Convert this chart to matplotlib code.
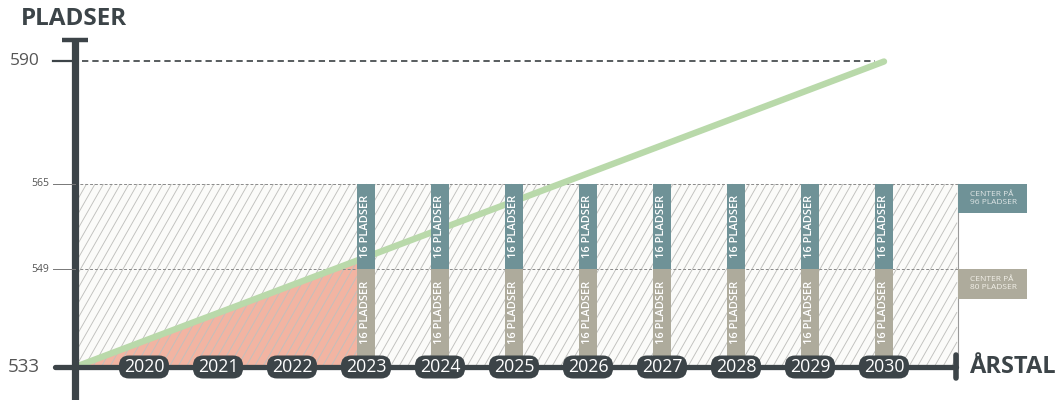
import numpy as np
import matplotlib
matplotlib.use("Agg")
import matplotlib.pyplot as plt
from matplotlib.patches import Rectangle, FancyBboxPatch
from matplotlib.collections import LineCollection

plt.rcParams['font.family'] = ['Open Sans', 'DejaVu Sans']

# ---- data ----
years = [2020, 2021, 2022, 2023, 2024, 2025, 2026, 2027, 2028, 2029, 2030]
expansion_years = [2023, 2024, 2025, 2026, 2027, 2028, 2029, 2030]
bar_label = "16 PLADSER"
y_ticks = [533, 549, 565, 590]
level_80 = 549
level_96 = 565
base = 533
demand_start = (2019.07, 533)   # line starts at the axis origin
demand_end = (2030, 590)
target = 590
box_labels = ["CENTER PÅ\n96 PLADSER", "CENTER PÅ\n80 PLADSER"]

# ---- styles ----
DARK = '#3c4448'
TEAL = '#6f9297'
BEIGE = '#aeab9c'
GREEN = '#b9d9aa'
SALMON = '#f2b4a2'
X0, X1 = 2019.07, 2031.0

W, H = 1059, 400
fig = plt.figure(figsize=(W / 100, H / 100), dpi=100)
ax = fig.add_axes([0, 0, 1, 1])
ax.set_axis_off()

# piecewise-linear y scale (schematic axis)
kv = np.array([520, 533, 549, 565, 590, 610], dtype=float)
kp = np.array([-46.6, 33, 131, 216, 338.5, 436.5])
fwd = lambda v: np.interp(v, kv, kp)
inv = lambda p: np.interp(p, kp, kv)
ax.set_yscale('function', functions=(fwd, inv))
ax.set_xlim(2020 - 144 / 74, 2020 + (W - 144) / 74)
ax.set_ylim(inv(0), inv(400))

def to_axes(x, y):
    d = ax.transData.transform((x, y))
    return ax.transAxes.inverted().transform(d)

# hatched background region
ax.add_patch(Rectangle((X0, base), X1 - X0, level_96 - base, fc='#fbfbf9', ec='none', zorder=1))

# red area under demand line up to 2023
p0 = fwd(demand_start[1]); p1 = fwd(demand_end[1])
t = (2023 - demand_start[0]) / (demand_end[0] - demand_start[0])
y2023 = inv(p0 + t * (p1 - p0))
ax.fill([demand_start[0], 2023, 2023], [base, y2023, base], color=SALMON, lw=0, zorder=2)

# hatch lines (pixel coordinates, clipped to region)
segs = []
ytop_px, ybot_px = 184, 367
hh = ybot_px - ytop_px
dx = 0.57 * hh
xl, xr = 78, 957
for xa in np.arange(xl - dx, xr, 8.5):
    s0 = max(0.0, (xl - xa) / dx)
    s1 = min(1.0, (xr - xa) / dx)
    if s0 >= s1:
        continue
    pa = (xa + s0 * dx, ybot_px - s0 * hh)
    pb = (xa + s1 * dx, ybot_px - s1 * hh)
    segs.append([(pa[0] / W, 1 - pa[1] / H), (pb[0] / W, 1 - pb[1] / H)])
ax.add_collection(LineCollection(segs, colors='#c0c0bd', linewidths=0.65,
                                 transform=ax.transAxes, zorder=3))

# dashed level lines and right border
for lv in (level_80, level_96):
    ax.plot([X0, X1], [lv, lv], color='#8a8a8a', lw=0.7, ls=(0, (3, 2)), zorder=3)
ax.plot([X1, X1], [base, level_96], color='#9a9a9a', lw=0.8, zorder=3)

# target dashed line
ax.plot([X0 + 0.09, 2029.88], [target, target], color='#4a4f52', lw=1.3, ls=(0, (3.5, 2.2)), zorder=3)

# demand line
ax.plot([demand_start[0], demand_end[0]], [demand_start[1], demand_end[1]], color=GREEN,
        lw=4.6, solid_capstyle='round', zorder=5)

# expansion bars
bw = 0.245
for yr in expansion_years:
    ax.bar(yr, level_96 - level_80, bottom=level_80, width=bw, color=TEAL, zorder=6)
    ax.bar(yr, level_80 - base, bottom=base, width=bw, color=BEIGE, zorder=6)
    ax.text(yr, (level_80 + level_96) / 2, bar_label, rotation=90, ha='center', va='center',
            color='white', fontsize=8, fontweight='semibold', zorder=7)
    ax.text(yr, inv((fwd(level_80) + fwd(base) + 12) / 2), bar_label, rotation=90, ha='center',
            va='center', color='white', fontsize=8, fontweight='semibold', zorder=7)

# right-side boxes
bx0 = X1
bxw = 69 / 74
for lv, col, lab, tc in [(level_96, TEAL, box_labels[0], '#dfe6e6'),
                         (level_80, BEIGE, box_labels[1], '#f2f0e8')]:
    top = fwd(lv); bot = top - 29.5
    ax.add_patch(Rectangle((bx0, inv(bot)), bxw, lv - inv(bot), fc=col, ec='none', zorder=6))
    ax.text(bx0 + 12 / 74, inv(top - 14.5), lab, ha='left', va='center', fontsize=6,
            color=tc, linespacing=1.2, zorder=7)

# axes (drawn as thick lines)
ax.plot([X0, X0], [inv(-5), inv(362)], color=DARK, lw=5.2, solid_capstyle='butt', zorder=8)
ax.plot([X0 - 13 / 74, X0 + 13 / 74], [inv(360), inv(360)], color=DARK, lw=3.2,
        solid_capstyle='butt', zorder=8)
ax.plot([X0 - 20 / 74, X1 - 2 / 74], [base, base], color=DARK, lw=3.8, solid_capstyle='round', zorder=8)
ax.plot([X1 - 2 / 74, X1 - 2 / 74], [inv(22), inv(45)], color=DARK, lw=4.0, solid_capstyle='round', zorder=8)

# y ticks
for v in y_ticks:
    if v == base:
        continue
    big = v == target
    ax.plot([X0 - 22 / 74, X0], [v, v], color=DARK if big else '#777777', lw=1.6 if big else 0.7,
            zorder=8)
    ax.text(X0 - (35 if big else 26) / 74, v, str(v), ha='right', va='center', color='#555555',
            fontsize=12.5 if big else 7.5, zorder=8)
ax.text(X0 - 35 / 74, base, str(base), ha='right', va='center', color='#555555', fontsize=13.5, zorder=8)

# year pills
pw, ph, pr = 50, 23, 10
for yr in years:
    cx, cy = to_axes(yr, base)
    ax.add_patch(FancyBboxPatch((cx - pw / 2 / W, cy - ph / 2 / H), pw / W, ph / H,
                                boxstyle=f'round,pad=0,rounding_size={pr / W}',
                                mutation_aspect=W / H, transform=ax.transAxes,
                                fc=DARK, ec='none', zorder=9))
    ax.text(yr, base, str(yr), ha='center', va='center', color='white', fontsize=12.8, zorder=10)

# axis titles
ax.text(21 / W, 1 - 19 / H, 'PLADSER', transform=ax.transAxes, ha='left', va='center',
        fontsize=17.5, fontweight='bold', color=DARK)
ax.text(969 / W, 1 - 367 / H, 'ÅRSTAL', transform=ax.transAxes, ha='left', va='center',
        fontsize=17, fontweight='bold', color=DARK)

fig.savefig('out.png', dpi=100, facecolor='white')
